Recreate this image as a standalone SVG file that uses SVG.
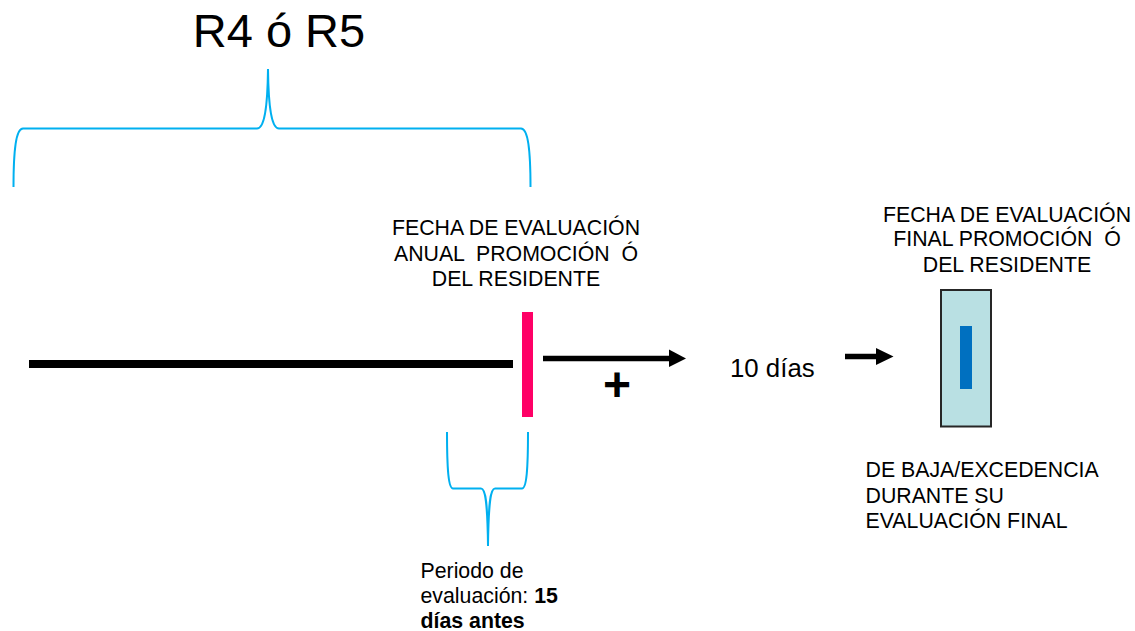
<svg xmlns="http://www.w3.org/2000/svg" width="1135" height="631" viewBox="0 0 1135 631">
<defs>
<style>
.t{font-family:"Liberation Sans",Arial,sans-serif;font-size:21.3px;fill:#000;white-space:pre}
.brace{fill:none;stroke:#00B0F0;stroke-width:2}
.bar{fill:none;stroke:#000;stroke-width:8}
.arr{fill:none;stroke:#000;stroke-width:5.5}
.head{fill:#000}
</style>
</defs>
<rect width="1135" height="631" fill="#fff"/>
<g id="title">
<text class="t" x="279" y="47" text-anchor="middle" style="font-size:47px">R4 ó R5</text>
</g>
<g id="brace-top">
<path class="brace" d="M13.5,187 C13.5,150 16,128.5 23,128.5 L257,128.5 C264,128.5 267.5,110 268,69 C268.5,110 272,128.5 279,128.5 L521,128.5 C528,128.5 530.5,150 530.5,187"/>
</g>
<g id="timeline">
<line class="bar" x1="29" y1="364" x2="513" y2="364"/>
<rect x="522" y="312" width="11" height="105" fill="#FF0066"/>
</g>
<g id="label-anual">
<text class="t" x="516" y="235" text-anchor="middle">FECHA DE EVALUACIÓN</text>
<text class="t" x="516" y="260.5" text-anchor="middle">ANUAL  PROMOCIÓN  Ó</text>
<text class="t" x="516" y="286" text-anchor="middle">DEL RESIDENTE</text>
</g>
<g id="connectors">
<line class="arr" x1="543" y1="358.5" x2="671" y2="358.5"/>
<polygon class="head" points="669,349.5 686,358.5 669,367"/>
<line class="arr" x1="845" y1="356.5" x2="878" y2="356.5"/>
<polygon class="head" points="876,348 893.5,356.5 876,365"/>
</g>
<g id="plus">
<text class="t" x="617" y="400.5" text-anchor="middle" style="font-size:48px;font-weight:bold">+</text>
</g>
<g id="dias10">
<text class="t" x="730" y="377" style="font-size:25.8px">10 días</text>
</g>
<g id="label-final">
<text class="t" x="1007" y="221.5" text-anchor="middle">FECHA DE EVALUACIÓN</text>
<text class="t" x="1007" y="246" text-anchor="middle">FINAL PROMOCIÓN  Ó</text>
<text class="t" x="1007" y="271.5" text-anchor="middle">DEL RESIDENTE</text>
</g>
<g id="final-box">
<rect x="941" y="290" width="50" height="136.5" fill="#B9E0E3" stroke="#262626" stroke-width="2"/>
<rect x="960" y="326" width="12" height="63" fill="#0070C0"/>
</g>
<g id="label-baja">
<text class="t" x="865.5" y="477">DE BAJA/EXCEDENCIA</text>
<text class="t" x="865.5" y="502.5">DURANTE SU</text>
<text class="t" x="865.5" y="528">EVALUACIÓN FINAL</text>
</g>
<g id="brace-periodo">
<path class="brace" d="M447,432 C447,470 448.5,488.5 453,488.5 L481,488.5 C486,488.5 487.5,505 488,546 C488.5,505 490,488.5 495,488.5 L522,488.5 C526.5,488.5 528,470 528,432"/>
</g>
<g id="label-periodo">
<text class="t" x="420.5" y="578">Periodo de</text>
<text class="t" x="420.5" y="603">evaluación: <tspan font-weight="bold">15</tspan></text>
<text class="t" x="420.5" y="627.5" font-weight="bold">días antes</text>
</g>
</svg>
